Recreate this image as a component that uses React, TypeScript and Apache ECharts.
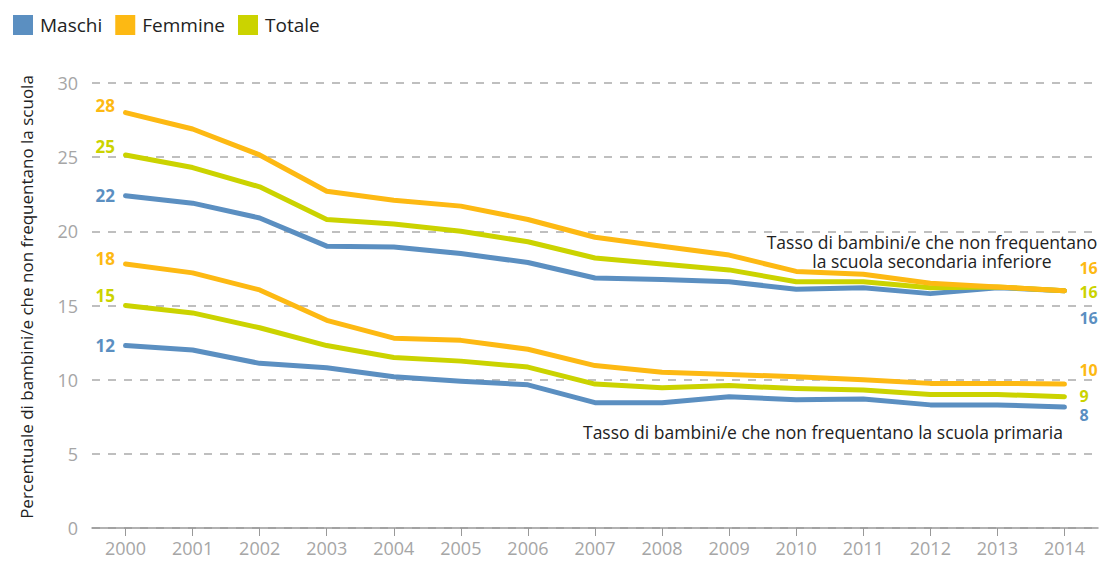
import React, { useEffect, useRef } from "react";
import * as echarts from "echarts";

const years = ["2000","2001","2002","2003","2004","2005","2006","2007","2008","2009","2010","2011","2012","2013","2014"];
const secMaschi = [22.4, 21.9, 20.9, 19.0, 18.95, 18.5, 17.9, 16.85, 16.75, 16.6, 16.1, 16.2, 15.8, 16.2, 16.0];
const secFemmine = [28.0, 26.9, 25.15, 22.7, 22.1, 21.7, 20.8, 19.6, 19.0, 18.4, 17.3, 17.1, 16.5, 16.25, 16.0];
const secTotale = [25.15, 24.3, 23.0, 20.8, 20.5, 20.0, 19.3, 18.2, 17.8, 17.4, 16.6, 16.6, 16.2, 16.25, 16.0];
const priMaschi = [12.3, 12.0, 11.1, 10.8, 10.2, 9.9, 9.65, 8.45, 8.45, 8.85, 8.65, 8.7, 8.3, 8.3, 8.15];
const priFemmine = [17.8, 17.2, 16.05, 14.0, 12.8, 12.65, 12.05, 10.95, 10.5, 10.35, 10.2, 10.0, 9.75, 9.75, 9.7];
const priTotale = [15.0, 14.5, 13.5, 12.3, 11.5, 11.25, 10.85, 9.7, 9.45, 9.6, 9.4, 9.3, 9.0, 9.0, 8.85];
const yTicks = [0, 5, 10, 15, 20, 25, 30];

const BLUE = "#5B8FC1";
const ORANGE = "#FDB913";
const GREEN = "#CBD300";
const FONT = "'Open Sans', 'Noto Sans', sans-serif";

function mkSeries(name: string, color: string, values: number[], leftOff: number, rightOff: number) {
  return {
    name,
    type: "line",
    data: values,
    symbol: "none",
    lineStyle: { color, width: 5, cap: "round", join: "round" },
    itemStyle: { color },
    markPoint: {
      symbol: "circle",
      symbolSize: 1,
      itemStyle: { color: "rgba(0,0,0,0)" },
      silent: true,
      data: [
        {
          coord: [years[0], values[0]],
          value: Math.round(values[0]),
          label: {
            show: true,
            position: "left",
            distance: 10,
            offset: [0, leftOff],
            formatter: String(Math.round(values[0])),
            color,
            fontWeight: "bold",
            fontSize: 17,
            fontFamily: FONT,
          },
        },
      ],
    },
    endLabel: {
      show: true,
      distance: 15,
      offset: [0, rightOff],
      formatter: (p: any) => String(Math.round(p.value)),
      color,
      fontWeight: "bold",
      fontSize: 16,
      lineHeight: 16,
      fontFamily: FONT,
    },
    z: 3,
  };
}

export default function App() {
  const ref = useRef<HTMLDivElement>(null);
  useEffect(() => {
    const chart = echarts.init(ref.current!, null, { renderer: "svg" });
    chart.setOption({
      animation: false,
      textStyle: { fontFamily: FONT },
      legend: {
        left: 13,
        top: 15,
        padding: 0,
        icon: "rect",
        itemWidth: 20,
        itemHeight: 20,
        itemGap: 13,
        data: ["Maschi", "Femmine", "Totale"],
        textStyle: { fontSize: 19, color: "#222", fontFamily: FONT, padding: [0, 0, 0, 2] },
      },
      grid: { left: 92, right: 4, top: 83, bottom: 34, containLabel: false },
      xAxis: {
        type: "category",
        data: years,
        boundaryGap: true,
        axisLine: { show: true, lineStyle: { color: "#999", width: 1.5 } },
        axisTick: { show: true, alignWithLabel: true, length: 8, lineStyle: { color: "#999" } },
        axisLabel: { color: "#a6a6a6", fontSize: 18, margin: 11, fontFamily: FONT },
      },
      yAxis: {
        type: "value",
        min: yTicks[0],
        max: yTicks[yTicks.length - 1],
        interval: 5,
        axisLine: { show: false },
        axisTick: { show: false },
        axisLabel: { color: "#a6a6a6", fontSize: 18, margin: 14, fontFamily: FONT },
        splitLine: { show: true, lineStyle: { color: "#aaa", type: [8, 8], width: 1.5 } },
      },
      graphic: [
        {
          type: "text",
          x: 26,
          y: 297,
          rotation: Math.PI / 2,
          style: {
            text: "Percentuale di bambini/e che non frequentano la scuola",
            fill: "#222",
            fontSize: 17,
            fontFamily: FONT,
            align: "center",
            verticalAlign: "middle",
          },
        },
        {
          type: "text",
          x: 932,
          y: 251,
          style: {
            text: "Tasso di bambini/e che non frequentano\nla scuola secondaria inferiore",
            fill: "#222",
            fontSize: 17.5,
            lineHeight: 19,
            fontFamily: FONT,
            align: "center",
            verticalAlign: "middle",
          },
        },
        {
          type: "text",
          right: 39,
          top: 423,
          style: {
            text: "Tasso di bambini/e che non frequentano la scuola primaria",
            fill: "#222",
            fontSize: 17.5,
            lineHeight: 18,
            fontFamily: FONT,
          },
        },
      ],
      series: [
        mkSeries("Maschi", BLUE, secMaschi, 0, 27),
        mkSeries("Totale", GREEN, secTotale, -8, 1),
        mkSeries("Femmine", ORANGE, secFemmine, -7, -23),
        mkSeries("Maschi", BLUE, priMaschi, 0, 8),
        mkSeries("Totale", GREEN, priTotale, -10, -1),
        mkSeries("Femmine", ORANGE, priFemmine, -5, -14),
      ],
    });
    return () => chart.dispose();
  }, []);
  return <div ref={ref} style={{ width: 1102, height: 562, position: "absolute", left: 0, top: 0 }} />;
}
